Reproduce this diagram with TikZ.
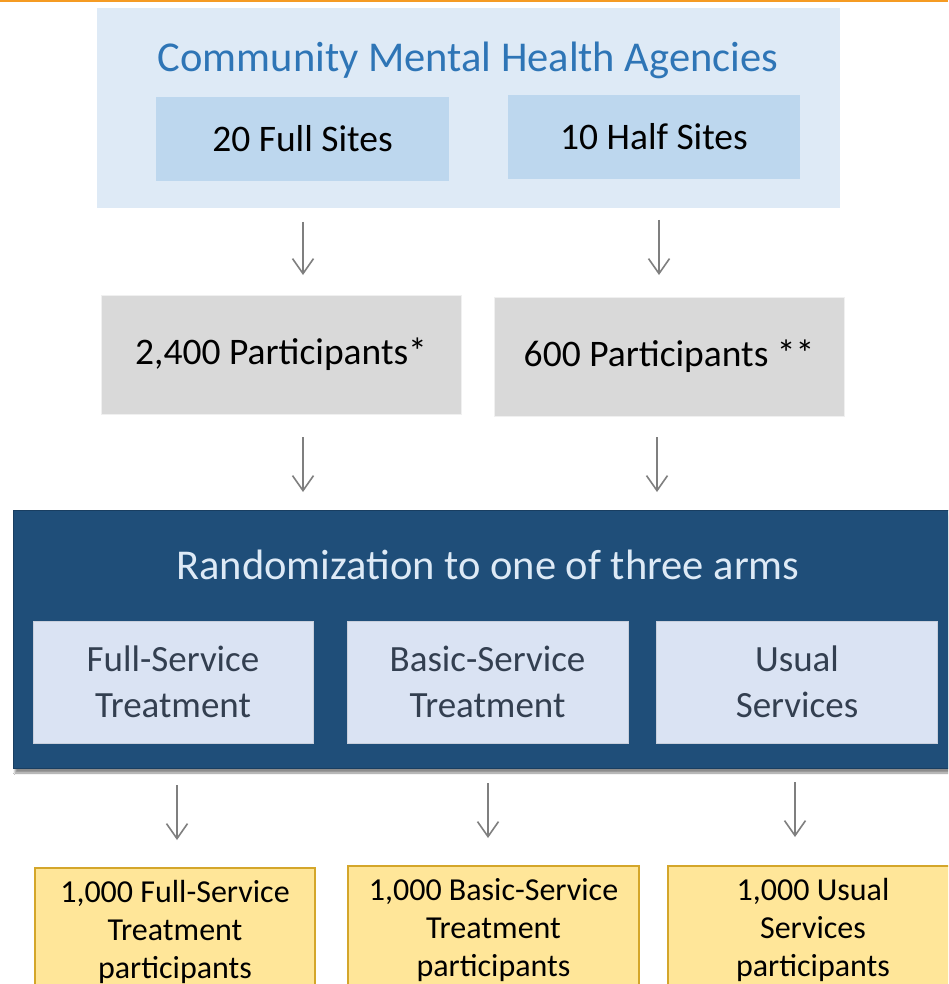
\documentclass[tikz,border=0pt]{standalone}
\usepackage{fontspec}
\setmainfont{Carlito}
\usetikzlibrary{arrows.meta,shadows.blur}
\definecolor{orangeline}{HTML}{F59B23}
\definecolor{outerblue}{HTML}{DEEAF6}
\definecolor{siteblue}{HTML}{BDD7EE}
\definecolor{titleblue}{HTML}{2E75B6}
\definecolor{partgray}{HTML}{D9D9D9}
\definecolor{darkblue}{HTML}{1F4E79}
\definecolor{armfill}{HTML}{DAE3F3}
\definecolor{armtext}{HTML}{333F50}
\definecolor{yellowfill}{HTML}{FFE699}
\definecolor{yellowline}{HTML}{D4A62A}
\definecolor{arrowgray}{HTML}{7F7F7F}
\tikzset{
  boxbase/.style={rectangle, inner sep=0pt, outer sep=0pt, align=center},
  sitebox/.style={boxbase, fill=siteblue, font=\fontsize{37.5}{42}\selectfont},
  partbox/.style={boxbase, fill=partgray, draw=black!6, line width=1pt, font=\fontsize{37.5}{42}\selectfont},
  armbox/.style={boxbase, fill=armfill, draw=armfill!80!gray, line width=0.8pt, text=armtext, font=\fontsize{37}{46}\selectfont},
  resultbox/.style={boxbase, fill=yellowfill, draw=yellowline, line width=1.2pt, font=\fontsize{32}{38}\selectfont},
  flowarrow/.style={draw=arrowgray, line width=1.6pt, -{Straight Barb[length=15pt,width=21pt,line width=1.6pt]}}
}
\begin{document}
\begin{tikzpicture}[x=1pt,y=-1pt]
\useasboundingbox (0,0) rectangle (948,984);
\clip (0,0) rectangle (948,984);
\fill[white] (0,0) rectangle (948,984);
% orange top line
\fill[orangeline] (0,0) rectangle (948,2.5);
% outer agencies box
\node[boxbase, fill=outerblue, minimum width=743pt, minimum height=200pt] (agencies) at (468.5,108) {};
\node[text=titleblue, font=\fontsize{42.5}{48}\selectfont, inner sep=0pt] (title) at (468,60) {Community Mental Health Agencies};
\node[sitebox, minimum width=293pt, minimum height=84pt] (full) at (302.5,139) {20 Full Sites};
\node[sitebox, minimum width=292pt, minimum height=84pt] (half) at (654,137) {10 Half Sites};
% participants
\node[partbox, minimum width=360pt, minimum height=119pt] (p2400) at (281,354.5) {2,400 Participants*};
\node[partbox, minimum width=350pt, minimum height=119pt] (p600) at (669,356.5) {600 Participants **};
% arrows top
\coordinate (a1s) at (303,222); \coordinate (a1e) at (303,275);
\coordinate (a2s) at (659,220); \coordinate (a2e) at (659,275);
\draw[flowarrow] (a1s) -- (a1e);
\draw[flowarrow] (a2s) -- (a2e);
\coordinate (b1s) at (303,437); \coordinate (b1e) at (303,492);
\coordinate (b2s) at (657,437); \coordinate (b2e) at (657,492);
\draw[flowarrow] (b1s) -- (b1e);
\draw[flowarrow] (b2s) -- (b2e);
% randomization box
\node[boxbase, fill=darkblue, draw=darkblue!80!black, line width=0.8pt, minimum width=945pt, minimum height=258pt,
  blur shadow={shadow xshift=2pt, shadow yshift=-5pt, shadow blur steps=6, shadow opacity=45}] (rand) at (485.5,639) {};
\node[text=outerblue, font=\fontsize{42.5}{48}\selectfont, inner sep=0pt] (randtitle) at (488,565) {Randomization to one of three arms};
\node[armbox, minimum width=280pt, minimum height=122pt] (arm1) at (173,682) {Full-Service\\Treatment};
\node[armbox, minimum width=281pt, minimum height=122pt] (arm2) at (487.5,682) {Basic-Service\\Treatment};
\node[armbox, minimum width=281pt, minimum height=122pt] (arm3) at (797,682) {Usual\\Services};
% arrows bottom
\coordinate (c1s) at (177,785); \coordinate (c1e) at (177,840);
\coordinate (c2s) at (488,783); \coordinate (c2e) at (488,838);
\coordinate (c3s) at (795,782); \coordinate (c3e) at (795,837);
\draw[flowarrow] (c1s) -- (c1e);
\draw[flowarrow] (c2s) -- (c2e);
\draw[flowarrow] (c3s) -- (c3e);
% result boxes
\node[resultbox, minimum width=280pt, minimum height=128pt] (r1) at (175,932) {1,000 Full-Service\\Treatment\\participants};
\node[resultbox, minimum width=291pt, minimum height=128pt] (r2) at (493.5,930) {1,000 Basic-Service\\Treatment\\participants};
\node[resultbox, minimum width=290pt, minimum height=128pt] (r3) at (813,930) {1,000 Usual\\Services\\participants};
\end{tikzpicture}
\end{document}
